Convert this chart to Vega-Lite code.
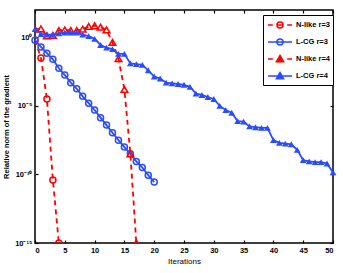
{
  "$schema": "https://vega.github.io/schema/vega-lite/v6.json",
  "width": 298,
  "height": 233,
  "autosize": {"type": "none"},
  "padding": {"left": 35, "top": 10, "right": 10, "bottom": 30},
  "background": "white",
  "config": {
    "view": {"stroke": "black", "strokeWidth": 1.5},
    "font": "Liberation Sans",
    "axis": {"grid": false, "domain": false, "tickColor": "black", "labelColor": "black", "titleColor": "black"}
  },
  "datasets": {
    "d": [
      {"s": "N-like r=3", "i": 0, "v": 0.63},
      {"s": "N-like r=3", "i": 1, "v": 0.032},
      {"s": "N-like r=3", "i": 2, "v": 3.2e-5},
      {"s": "N-like r=3", "i": 3, "v": 4e-11},
      {"s": "N-like r=3", "i": 4, "v": 1e-15},
      {"s": "L-CG r=3", "i": 0, "v": 0.63},
      {"s": "L-CG r=3", "i": 1, "v": 0.2},
      {"s": "L-CG r=3", "i": 2, "v": 0.071},
      {"s": "L-CG r=3", "i": 3, "v": 0.025},
      {"s": "L-CG r=3", "i": 4, "v": 5.6e-3},
      {"s": "L-CG r=3", "i": 5, "v": 1.8e-3},
      {"s": "L-CG r=3", "i": 6, "v": 5e-4},
      {"s": "L-CG r=3", "i": 7, "v": 1.8e-4},
      {"s": "L-CG r=3", "i": 8, "v": 5e-5},
      {"s": "L-CG r=3", "i": 9, "v": 1.6e-5},
      {"s": "L-CG r=3", "i": 10, "v": 5e-6},
      {"s": "L-CG r=3", "i": 11, "v": 1.4e-6},
      {"s": "L-CG r=3", "i": 12, "v": 4e-7},
      {"s": "L-CG r=3", "i": 13, "v": 1.1e-7},
      {"s": "L-CG r=3", "i": 14, "v": 3.2e-8},
      {"s": "L-CG r=3", "i": 15, "v": 1e-8},
      {"s": "L-CG r=3", "i": 16, "v": 3.2e-9},
      {"s": "L-CG r=3", "i": 17, "v": 8.9e-10},
      {"s": "L-CG r=3", "i": 18, "v": 3.2e-10},
      {"s": "L-CG r=3", "i": 19, "v": 8.9e-11},
      {"s": "L-CG r=3", "i": 20, "v": 2.8e-11},
      {"s": "N-like r=4", "i": 0, "v": 4.0},
      {"s": "N-like r=4", "i": 1, "v": 4.2},
      {"s": "N-like r=4", "i": 2, "v": 1.32},
      {"s": "N-like r=4", "i": 3, "v": 1.41},
      {"s": "N-like r=4", "i": 4, "v": 3.2},
      {"s": "N-like r=4", "i": 5, "v": 3.5},
      {"s": "N-like r=4", "i": 6, "v": 3.2},
      {"s": "N-like r=4", "i": 7, "v": 3.2},
      {"s": "N-like r=4", "i": 8, "v": 4.0},
      {"s": "N-like r=4", "i": 9, "v": 6.3},
      {"s": "N-like r=4", "i": 10, "v": 7.1},
      {"s": "N-like r=4", "i": 11, "v": 5.6},
      {"s": "N-like r=4", "i": 12, "v": 3.5},
      {"s": "N-like r=4", "i": 13, "v": 0.43},
      {"s": "N-like r=4", "i": 14, "v": 0.028},
      {"s": "N-like r=4", "i": 15, "v": 1.6e-4},
      {"s": "N-like r=4", "i": 16, "v": 3.2e-9},
      {"s": "N-like r=4", "i": 17, "v": 1e-15},
      {"s": "L-CG r=4", "i": 0, "v": 4.0},
      {"s": "L-CG r=4", "i": 1, "v": 1.78},
      {"s": "L-CG r=4", "i": 2, "v": 1.58},
      {"s": "L-CG r=4", "i": 3, "v": 1.58},
      {"s": "L-CG r=4", "i": 4, "v": 2.0},
      {"s": "L-CG r=4", "i": 5, "v": 2.24},
      {"s": "L-CG r=4", "i": 6, "v": 2.24},
      {"s": "L-CG r=4", "i": 7, "v": 2.24},
      {"s": "L-CG r=4", "i": 8, "v": 1.58},
      {"s": "L-CG r=4", "i": 9, "v": 1.26},
      {"s": "L-CG r=4", "i": 10, "v": 0.79},
      {"s": "L-CG r=4", "i": 11, "v": 0.28},
      {"s": "L-CG r=4", "i": 12, "v": 0.18},
      {"s": "L-CG r=4", "i": 13, "v": 0.14},
      {"s": "L-CG r=4", "i": 14, "v": 0.063},
      {"s": "L-CG r=4", "i": 15, "v": 0.063},
      {"s": "L-CG r=4", "i": 16, "v": 0.0126},
      {"s": "L-CG r=4", "i": 17, "v": 0.0112},
      {"s": "L-CG r=4", "i": 18, "v": 0.01},
      {"s": "L-CG r=4", "i": 19, "v": 0.004},
      {"s": "L-CG r=4", "i": 20, "v": 1.4e-3},
      {"s": "L-CG r=4", "i": 21, "v": 1e-3},
      {"s": "L-CG r=4", "i": 22, "v": 5e-4},
      {"s": "L-CG r=4", "i": 23, "v": 4.5e-4},
      {"s": "L-CG r=4", "i": 24, "v": 4e-4},
      {"s": "L-CG r=4", "i": 25, "v": 3.5e-4},
      {"s": "L-CG r=4", "i": 26, "v": 2.5e-4},
      {"s": "L-CG r=4", "i": 27, "v": 7.9e-5},
      {"s": "L-CG r=4", "i": 28, "v": 6.3e-5},
      {"s": "L-CG r=4", "i": 29, "v": 4.5e-5},
      {"s": "L-CG r=4", "i": 30, "v": 3.2e-5},
      {"s": "L-CG r=4", "i": 31, "v": 1e-5},
      {"s": "L-CG r=4", "i": 32, "v": 5e-6},
      {"s": "L-CG r=4", "i": 33, "v": 3.2e-6},
      {"s": "L-CG r=4", "i": 34, "v": 7.9e-7},
      {"s": "L-CG r=4", "i": 35, "v": 7.1e-7},
      {"s": "L-CG r=4", "i": 36, "v": 3.2e-7},
      {"s": "L-CG r=4", "i": 37, "v": 2.8e-7},
      {"s": "L-CG r=4", "i": 38, "v": 2.5e-7},
      {"s": "L-CG r=4", "i": 39, "v": 2.5e-7},
      {"s": "L-CG r=4", "i": 40, "v": 3.2e-8},
      {"s": "L-CG r=4", "i": 41, "v": 2e-8},
      {"s": "L-CG r=4", "i": 42, "v": 1.8e-8},
      {"s": "L-CG r=4", "i": 43, "v": 1.6e-8},
      {"s": "L-CG r=4", "i": 44, "v": 6.3e-9},
      {"s": "L-CG r=4", "i": 45, "v": 1.1e-9},
      {"s": "L-CG r=4", "i": 46, "v": 8.9e-10},
      {"s": "L-CG r=4", "i": 47, "v": 7.9e-10},
      {"s": "L-CG r=4", "i": 48, "v": 7.9e-10},
      {"s": "L-CG r=4", "i": 49, "v": 6.3e-10},
      {"s": "L-CG r=4", "i": 50, "v": 1.4e-10}
    ]
  },
  "data": {"name": "d"},
  "resolve": {"axis": {"x": "independent", "y": "independent"}},
  "layer": [
    {
      "encoding": {
        "x": {"field": "i", "type": "quantitative", "scale": {"domain": [0, 50], "nice": false},
          "axis": {"values": [0,5,10,15,20,25,30,35,40,45,50], "tickSize": -3, "tickWidth": 1.2, "labelPadding": 6, "labelFontSize": 7.5, "labelFontWeight": "bold", "title": "Iterations", "titleFontSize": 8, "titleFontWeight": "normal", "titlePadding": 4}},
        "y": {"field": "v", "type": "quantitative", "scale": {"type": "log", "domain": [1e-15, 100], "nice": false},
          "axis": {"values": [1e-15, 1e-10, 1e-5, 1], "labelExpr": "datum.value >= 0.5 ? '10⁰' : datum.value >= 1e-6 ? '10⁻⁵' : datum.value >= 1e-11 ? '10⁻¹⁰' : '10⁻¹⁵'", "tickSize": -3, "tickWidth": 1.2, "labelPadding": 6, "labelFontSize": 7.5, "labelFontWeight": "bold", "title": "Relative norm of the gradient", "titleFontSize": 7.5, "titleFontWeight": "bold", "titlePadding": 4}},
        "color": {"field": "s", "type": "nominal",
          "scale": {"domain": ["N-like r=3", "L-CG r=3", "N-like r=4", "L-CG r=4"], "range": ["#ff0000", "#2a4bff", "#ff0000", "#2a4bff"]},
          "legend": {
            "orient": "none", "legendX": 228, "legendY": 5, "title": null,
            "strokeColor": "black", "fillColor": "white", "padding": 3,
            "symbolSize": 144, "symbolOffset": 7, "labelOffset": 9,
            "labelFontSize": 7.5, "labelFontWeight": "bold", "labelColor": "black",
            "rowPadding": 4, "symbolStrokeWidth": 1.5,
            "encode": {"symbols": {"update": {
              "shape": {"signal": "datum.value === 'N-like r=3' ? 'M-2,0H-1.2M-0.45,0H0.45M1.2,0H2M-0.5,0A0.5,0.5,0,1,1,0.5,0A0.5,0.5,0,1,1,-0.5,0Z' : datum.value === 'L-CG r=3' ? 'M-2,0H2M-0.5,0A0.5,0.5,0,1,1,0.5,0A0.5,0.5,0,1,1,-0.5,0Z' : datum.value === 'N-like r=4' ? 'M-2,0H-1.2M1.2,0H2M0,-0.6L0.6,0.45L-0.6,0.45Z' : 'M-2,0H2M0,-0.6L0.6,0.45L-0.6,0.45Z'"},
              "fill": {"signal": "indexof(datum.value, 'N') >= 0 ? '#ff0000' : '#2a4bff'"},
              "fillOpacity": {"signal": "indexof(datum.value, 'r=4') >= 0 ? 1 : 0"},
              "stroke": {"signal": "indexof(datum.value, 'N') >= 0 ? '#ff0000' : '#2a4bff'"},
              "strokeWidth": {"value": 1.5},
              "opacity": {"value": 1}
            }}}
          }}
      },
      "layer": [
        {"transform": [{"filter": "datum.s === 'N-like r=3'"}], "mark": {"type": "line", "strokeWidth": 1.8, "strokeDash": [5, 4], "clip": true}},
        {"transform": [{"filter": "datum.s === 'N-like r=3'"}], "mark": {"type": "point", "shape": "circle", "filled": false, "size": 36, "strokeWidth": 1.5, "opacity": 1, "clip": true}},
        {"transform": [{"filter": "datum.s === 'L-CG r=3'"}], "mark": {"type": "line", "strokeWidth": 1.8}},
        {"transform": [{"filter": "datum.s === 'L-CG r=3'"}], "mark": {"type": "point", "shape": "circle", "filled": false, "size": 36, "strokeWidth": 1.5, "opacity": 1}},
        {"transform": [{"filter": "datum.s === 'N-like r=4'"}], "mark": {"type": "line", "strokeWidth": 1.8, "strokeDash": [5, 4], "clip": true}},
        {"transform": [{"filter": "datum.s === 'N-like r=4'"}], "mark": {"type": "point", "shape": "triangle-up", "filled": false, "size": 45, "strokeWidth": 1.5, "opacity": 1, "clip": true}},
        {"transform": [{"filter": "datum.s === 'L-CG r=4'"}], "mark": {"type": "line", "strokeWidth": 1.8}},
        {"transform": [{"filter": "datum.s === 'L-CG r=4'"}], "mark": {"type": "point", "shape": "triangle-up", "filled": true, "size": 45, "opacity": 1}}
      ]
    },
    {
      "mark": {"type": "point", "opacity": 0},
      "encoding": {
        "x": {"field": "i", "type": "quantitative", "axis": {"orient": "top", "values": [0,5,10,15,20,25,30,35,40,45,50], "labels": false, "tickSize": -3, "tickWidth": 1.2, "title": null}},
        "y": {"field": "v", "type": "quantitative", "axis": {"orient": "right", "values": [1e-15, 1e-10, 1e-5, 1], "labels": false, "tickSize": -3, "tickWidth": 1.2, "title": null}}
      }
    }
  ]
}
